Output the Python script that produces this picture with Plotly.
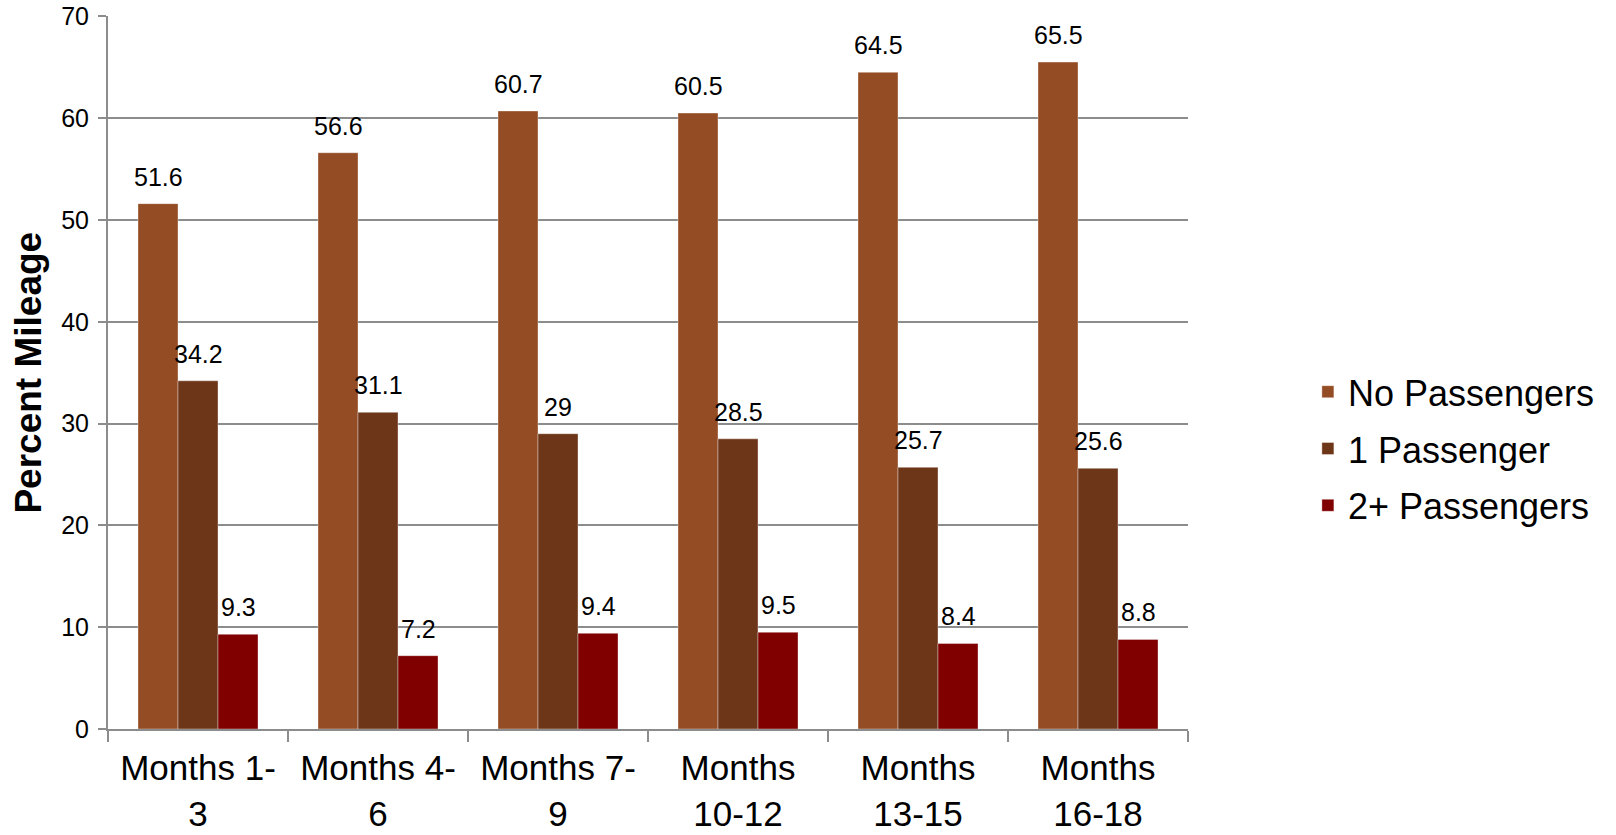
import plotly.graph_objects as go

categories = ["Months 1-<br>3", "Months 4-<br>6", "Months 7-<br>9",
              "Months<br>10-12", "Months<br>13-15", "Months<br>16-18"]
series_names = ["No Passengers", "1 Passenger", "2+ Passengers"]
no_passengers = [51.6, 56.6, 60.7, 60.5, 64.5, 65.5]
one_passenger = [34.2, 31.1, 29, 28.5, 25.7, 25.6]
two_plus_passengers = [9.3, 7.2, 9.4, 9.5, 8.4, 8.8]
y_ticks = [0, 10, 20, 30, 40, 50, 60, 70]

colors = ["#934C24", "#6E3619", "#800000"]
series_values = [no_passengers, one_passenger, two_plus_passengers]

FONT = "Liberation Sans, Arial, sans-serif"

fig = go.Figure()
for i, (name, vals) in enumerate(zip(series_names, series_values)):
    fig.add_trace(go.Bar(
        x=categories, y=vals, name=name, legendgroup=name,
        marker=dict(color=colors[i], line=dict(color="rgba(255,255,255,0.45)", width=0.8)),
        hoverinfo="x+y+name",
    ))

bar_px = 40
annotations = []
for i, vals in enumerate(series_values):
    for c, v in zip(categories, vals):
        annotations.append(dict(
            x=c, y=v, xref="x", yref="y", text=f"{v:g}", showarrow=False,
            xshift=(i - 1) * bar_px, yshift=11, yanchor="bottom", xanchor="center",
            font=dict(family=FONT, size=25, color="#000000"),
        ))

annotations.append(dict(
    x=-0.074, y=0.5, xref="paper", yref="paper", text="<b>Percent Mileage</b>",
    showarrow=False, textangle=-90, xanchor="center", yanchor="middle",
    font=dict(family=FONT, size=37, color="#000000"),
))

fig.update_layout(
    width=1616, height=835,
    margin=dict(l=108, r=428, t=16, b=106, autoexpand=False),
    paper_bgcolor="white", plot_bgcolor="white",
    barmode="group", bargap=1/3, bargroupgap=0,
    font=dict(family=FONT, color="#000000"),
    showlegend=True,
    legend=dict(
        x=1.111, xanchor="left", y=0.393, yanchor="middle",
        font=dict(family=FONT, size=36, color="#000000"),
        tracegroupgap=7, bgcolor="rgba(0,0,0,0)",
    ),
    annotations=annotations,
    xaxis=dict(
        type="category", showline=True, linecolor="#8C8C8C", linewidth=2,
        ticks="outside", tickson="boundaries", ticklen=11, tickcolor="#8C8C8C", tickwidth=2,
        tickfont=dict(family=FONT, size=35, color="#000000"),
        ticklabelstandoff=7, showgrid=False, tickangle=0, automargin=False,
    ),
    yaxis=dict(
        range=[0, 70.03], tickvals=y_ticks, showline=True, linecolor="#8C8C8C", linewidth=2,
        ticks="outside", ticklen=8, tickcolor="#8C8C8C", tickwidth=2,
        showgrid=True, gridcolor="#8C8C8C", gridwidth=2,
        tickfont=dict(family=FONT, size=25, color="#000000"),
        ticklabelstandoff=4, zeroline=False, automargin=False,
        ticklabeloverflow="allow",
    ),
)

fig.write_html("out.html", config={"displayModeBar": False},
               post_script="document.body.style.margin='0';")
